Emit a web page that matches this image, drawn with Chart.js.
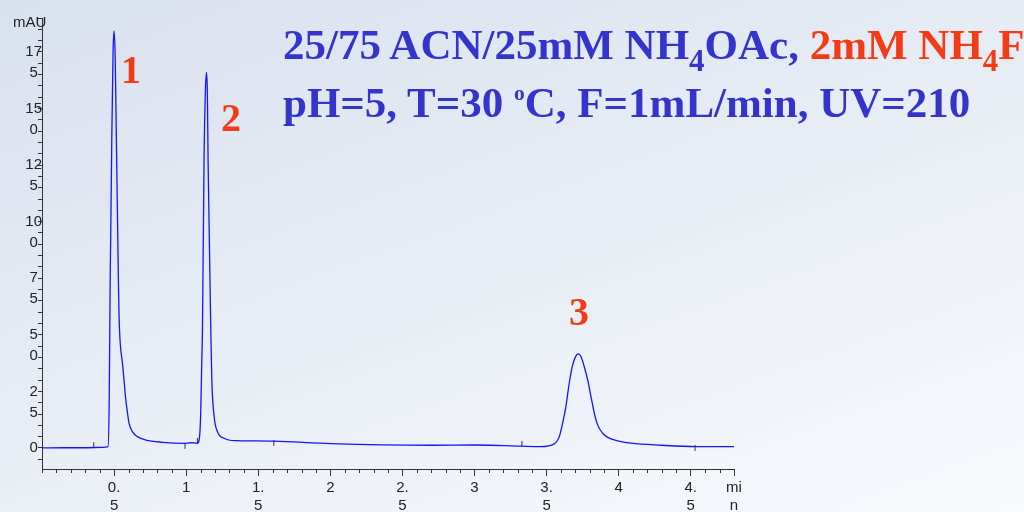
<!DOCTYPE html>
<html>
<head>
<meta charset="utf-8">
<script src="https://cdn.jsdelivr.net/npm/chart.js@4.4.1/dist/chart.umd.min.js"></script>
<style>
    html, body { margin: 0; padding: 0; }
    body {
        width: 1024px; height: 512px; overflow: hidden; position: relative;
        background: linear-gradient(160deg, #d9e1ee 0%, #e8edf5 50%, #f8fafd 100%);
        font-family: "Liberation Sans", Arial, sans-serif;
    }
    #chartBox { position: absolute; left: 0; top: 0; width: 1024px; height: 512px; }
    .title {
        position: absolute; left: 283px; top: 18px; white-space: nowrap;
        font-family: "Liberation Serif", "Times New Roman", serif; font-weight: bold;
        font-size: 43px; line-height: 54px; color: #3434cc;
    }
    .red { color: #f23c16; }
    .sub { font-size: 0.72em; position: relative; top: 0.4em; }
    .sup { font-size: 0.5em; position: relative; top: -0.8em; }
    .peak {
        position: absolute; font-family: "Liberation Serif", serif; font-weight: bold;
        font-size: 40px; line-height: 40px; color: #f23c16;
    }
    .unit { position: absolute; left: 13px; top: 13px; font-size: 15px; color: #222; }
</style>
</head>
<body>
<div id="chartBox"><canvas id="chromChart" width="1024" height="512"></canvas></div>
<div class="unit">mAU</div>
<div class="title">
    <div>25/75 ACN/25mM NH<span class="sub">4</span>OAc, <span class="red">2mM NH<span class="sub">4</span>F</span></div>
    <div>pH=5, T=30 <span class="sup">o</span>C, F=1mL/min, UV=210</div>
</div>
<div class="peak" style="left:121px; top:50px;">1</div>
<div class="peak" style="left:221px; top:98px;">2</div>
<div class="peak" style="left:569px; top:292px;">3</div>

<script>
// retention time (min) and detector signal (mAU)
const times = [
    0.000, 0.150, 0.300, 0.420, 0.458, 0.466, 0.473, 0.484, 0.493, 0.500,
    0.508, 0.516, 0.530, 0.534, 0.541, 0.558, 0.569, 0.579, 0.593, 0.604,
    0.627, 0.662, 0.720, 0.836, 0.983, 1.032, 1.078, 1.090, 1.101, 1.108,
    1.113, 1.124, 1.133, 1.141, 1.147, 1.152, 1.171, 1.178, 1.194, 1.217,
    1.263, 1.344, 1.483, 1.608, 2.004, 2.698, 3.010, 3.322, 3.460, 3.553,
    3.588, 3.611, 3.634, 3.657, 3.681, 3.704, 3.720, 3.738, 3.761, 3.785,
    3.808, 3.831, 3.854, 3.889, 3.924, 3.993, 4.085, 4.293, 4.537, 4.800
];
const signal = [
    0.0, 0.1, 0.1, 0.3, 0.6, 20, 74, 136, 175, 184.3,
    172, 136, 74, 59.6, 47.8, 37.5, 30.1, 22.7, 15.4, 10.9,
    7.2, 5.0, 3.5, 2.5, 2.0, 2.3, 2.1, 3.5, 15.5, 37.6,
    52, 127, 157, 166, 157, 127, 52, 30, 13.9, 7.2,
    4.3, 3.2, 3.1, 3.0, 1.9, 1.2, 1.3, 0.8, 0.6, 1.8,
    5.0, 10.9, 18.3, 28.6, 36.7, 40.7, 41.6, 40.4, 36.0, 30.1,
    22.7, 15.4, 10.2, 6.5, 4.7, 3.1, 2.1, 1.2, 0.6, 0.6
];

// small integration event marks on the baseline
const markerTimes = [0.359, 0.992, 1.078, 1.608, 3.329, 4.530];
const markerValues = [1.2, 0.9, 3.1, 2.2, 1.8, 0.0];

const xTickValues = [0.5, 1, 1.5, 2, 2.5, 3, 3.5, 4, 4.5, 4.8];
const xTickLabels = [['0.', '5'], '1', ['1.', '5'], '2', ['2.', '5'], '3', ['3.', '5'], '4', ['4.', '5'], ['mi', 'n']];
const yTickValues = [0, 25, 50, 75, 100, 125, 150, 175];
const yTickLabels = [['0', ''], ['2', '5'], ['5', '0'], ['7', '5'], ['10', '0'], ['12', '5'], ['15', '0'], ['17', '5']];

function findTick(list, v) {
    return list.findIndex(t => Math.abs(t - v) < 1e-6);
}

// short minor ticks on the time axis
const minorTicks = {
    id: 'minorTicks',
    afterDraw(chart) {
        const sx = chart.scales.x;
        const ctx = chart.ctx;
        ctx.save();
        ctx.strokeStyle = '#333';
        ctx.lineWidth = 1;
        ctx.beginPath();
        sx.ticks.forEach(t => {
            if (findTick(xTickValues, t.value) >= 0) return;
            const px = Math.round(sx.getPixelForValue(t.value)) + 0.5;
            ctx.moveTo(px, sx.top);
            ctx.lineTo(px, sx.top + 4);
        });
        ctx.stroke();
        ctx.restore();
    }
};

const tickFont = { family: '"Liberation Sans", Arial, sans-serif', size: 15 };

const config = {
    type: 'line',
    data: {
        datasets: [{
            data: times.map((t, i) => ({ x: t, y: signal[i] })),
            borderColor: '#1414ff',
            borderWidth: 1.3,
            pointRadius: 0,
            cubicInterpolationMode: 'monotone',
            fill: false
        }, {
            type: 'scatter',
            data: markerTimes.map((t, i) => ({ x: t, y: markerValues[i] })),
            pointStyle: 'line',
            rotation: 90,
            radius: 3,
            borderColor: '#333',
            borderWidth: 1
        }]
    },
    options: {
        responsive: false,
        animation: false,
        layout: { padding: { top: 18, right: 290, left: 0, bottom: 0 } },
        plugins: { legend: { display: false }, tooltip: { enabled: false } },
        scales: {
            x: {
                type: 'linear',
                min: 0,
                max: 4.8,
                afterFit: s => { s.height = 43; },
                border: { color: '#333', width: 1 },
                grid: {
                    drawOnChartArea: false,
                    tickLength: 7,
                    tickColor: c => findTick(xTickValues, c.tick.value) >= 0 ? '#333' : 'rgba(0,0,0,0)'
                },
                ticks: {
                    stepSize: 0.1,
                    autoSkip: false,
                    maxRotation: 0,
                    padding: 3,
                    color: '#222',
                    font: { ...tickFont, lineHeight: 1.2 },
                    callback: v => {
                        const i = findTick(xTickValues, v);
                        return i >= 0 ? xTickLabels[i] : '';
                    }
                }
            },
            y: {
                min: -9.3,
                max: 190,
                afterFit: s => { s.width = 42; },
                border: { color: '#333', width: 1 },
                grid: { drawOnChartArea: false, tickLength: 4, tickColor: '#333' },
                ticks: {
                    stepSize: 5,
                    includeBounds: false,
                    autoSkip: false,
                    crossAlign: 'center',
                    padding: -4,
                    labelOffset: 10.5,
                    color: '#222',
                    font: { ...tickFont, lineHeight: 1.4 },
                    callback: v => {
                        const i = findTick(yTickValues, v);
                        return i >= 0 ? yTickLabels[i] : '';
                    }
                }
            }
        }
    },
    plugins: [minorTicks]
};

const ctx = document.getElementById('chromChart').getContext('2d');
new Chart(ctx, config);
</script>
</body>
</html>
